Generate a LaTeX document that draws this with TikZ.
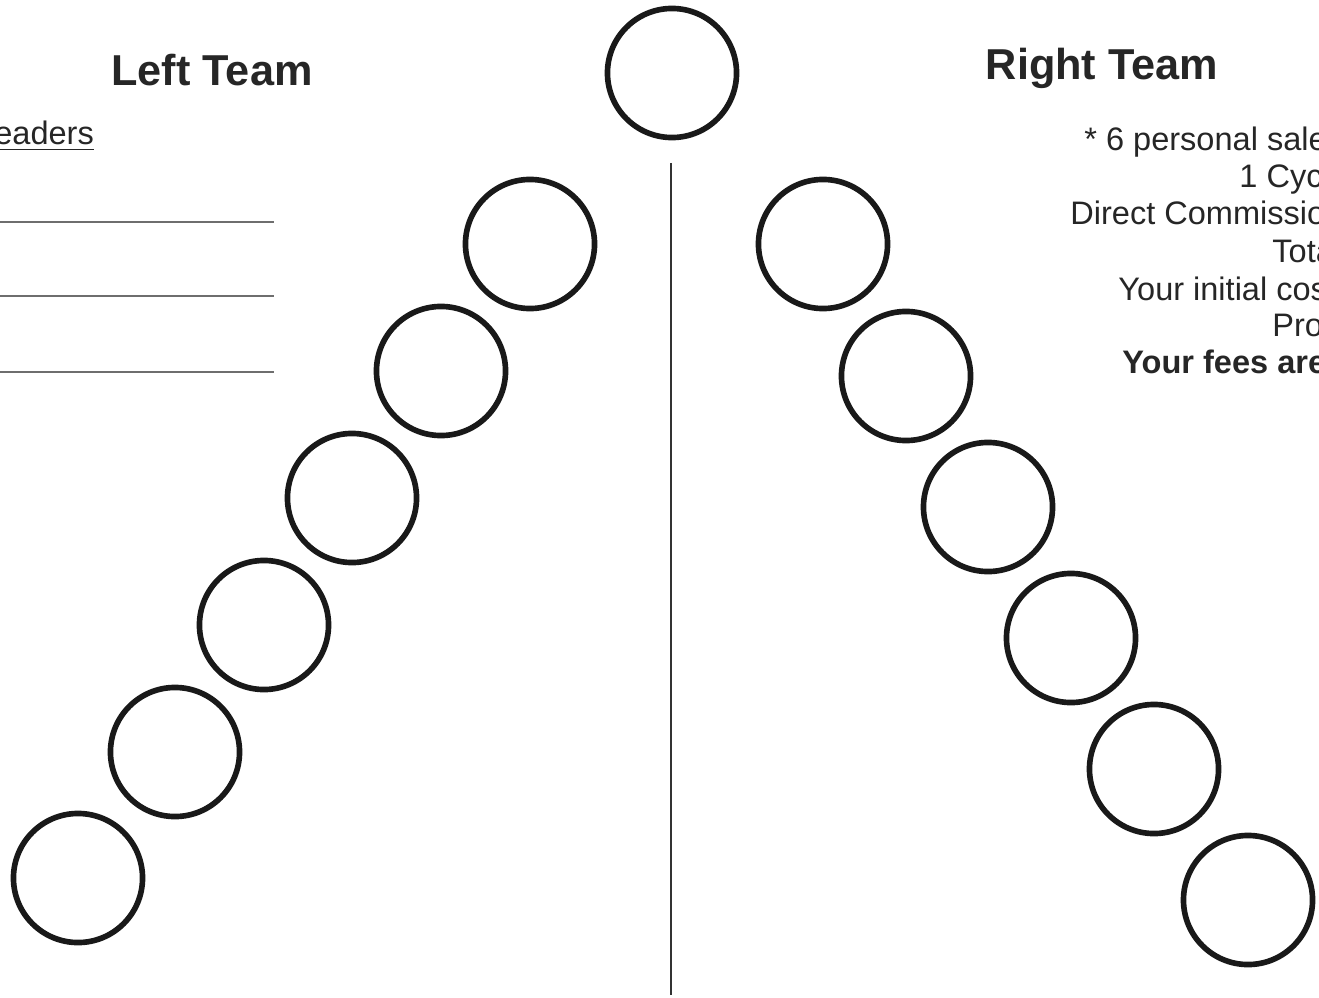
\documentclass[tikz,border=0pt]{standalone}
\usepackage{fontspec}
\setmainfont{Liberation Sans}
\usepackage{tikz}
\usetikzlibrary{positioning}
\definecolor{inkgray}{HTML}{262626}
\definecolor{rulegray}{HTML}{6E6E6E}

\begin{document}
\begin{tikzpicture}[x=0.01cm,y=-0.01cm,thick]
\tikzstyle{ring}=[circle,draw=black!90,line width=1.6pt,minimum size=1.29cm,inner sep=0pt]
\tikzstyle{title}=[inner sep=0pt,text=inkgray,font=\fontsize{12.3}{14}\selectfont\bfseries]
\tikzstyle{info}=[inner sep=0pt,text=inkgray,font=\fontsize{9.25}{11}\selectfont]
\useasboundingbox (0,0) rectangle (1319,997);
\clip (0,0) rectangle (1319,997);
% headings
\node[title, anchor=base] (lefttitle) at (212,86) {Left Team};
\node[title, anchor=base] (righttitle) at (1102,80) {Right Team};
% left side
\node[info, anchor=base west] (leaders) at (-7,144) {\underline{eaders}};
\draw[rulegray,line width=0.75pt] (0,222) -- (274,222);
\draw[rulegray,line width=0.75pt] (0,296) -- (274,296);
\draw[rulegray,line width=0.75pt] (0,372) -- (274,372);
% right side
\node[info, anchor=base west] (sales) at (1083,150) {* 6 personal sale};
\node[info, anchor=base west] (cycle) at (1238,188) {1 Cyc};
\node[info, anchor=base west] (direct) at (1069,224) {Direct Commissio};
\node[info, anchor=base west] (total) at (1271,262) {Tota};
\node[info, anchor=base west] (initial) at (1117,300) {Your initial cos};
\node[info, anchor=base west] (profit) at (1271,336) {Pro};
\node[info, anchor=base west, font=\fontsize{9.25}{11}\selectfont\bfseries] (fees) at (1121,373) {Your fees are};
% top and divider
\node[ring] (top) at (672,73) {};
\draw[black!80,line width=0.8pt] (671,163) -- (671,995);
% left team
\node[ring] (l1) at (530,244) {};
\node[ring] (l2) at (441,371) {};
\node[ring] (l3) at (352,498) {};
\node[ring] (l4) at (264,625) {};
\node[ring] (l5) at (175,752) {};
\node[ring] (l6) at (78,878) {};
% right team
\node[ring] (r1) at (823,244) {};
\node[ring] (r2) at (906,376) {};
\node[ring] (r3) at (988,507) {};
\node[ring] (r4) at (1071,638) {};
\node[ring] (r5) at (1154,769) {};
\node[ring] (r6) at (1248,900) {};
\end{tikzpicture}
\end{document}
